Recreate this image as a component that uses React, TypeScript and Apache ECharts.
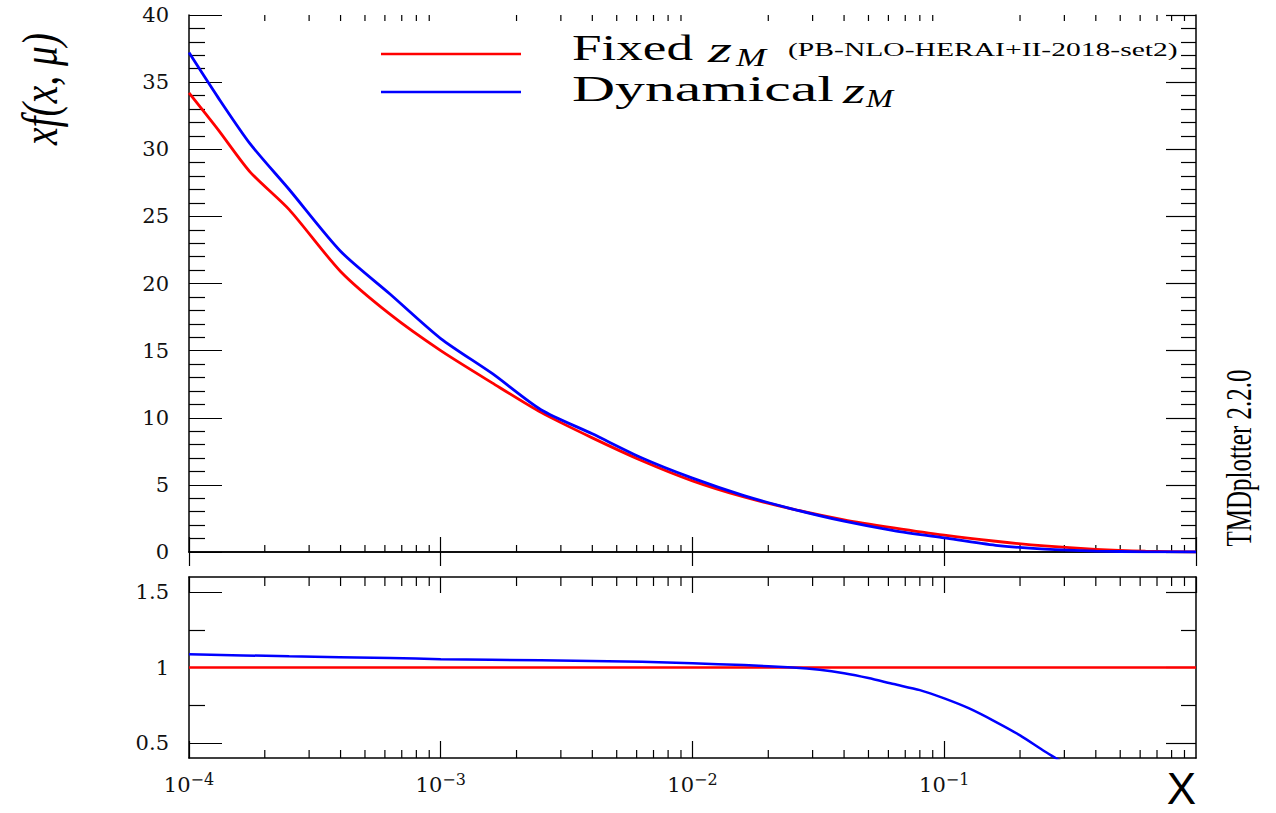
import React, { useEffect, useRef } from 'react';
import * as echarts from 'echarts';

// ---------- data ----------
const xValues = [1e-4, 1.3e-4, 1.75e-4, 2.5e-4, 4e-4, 6.3e-4, 1e-3, 1.6e-3, 2.5e-3, 4e-3, 6.3e-3, 1e-2, 1.6e-2, 2.5e-2, 4e-2, 6.3e-2, 0.1, 0.16, 0.25, 0.4, 0.63, 1];
const fixedZM = [34.2, 31.5, 28.3, 25.5, 20.9, 17.7, 15.0, 12.6, 10.4, 8.5, 6.8, 5.3, 4.1, 3.2, 2.4, 1.8, 1.25, 0.8, 0.45, 0.2, 0.06, 0];
const dynamicalZM = [37.2, 33.9, 30.4, 27.0, 22.4, 19.2, 15.9, 13.3, 10.6, 8.8, 7.0, 5.5, 4.2, 3.2, 2.3, 1.6, 1.05, 0.5, 0.22, 0.07, 0.015, 0];

const ratioX = [1e-4, 2.5e-4, 6.3e-4, 1e-3, 2.5e-3, 6.3e-3, 1e-2, 1.6e-2, 2.5e-2, 3.2e-2, 4e-2, 5e-2, 6.3e-2, 8e-2, 0.1, 0.125, 0.16, 0.2, 0.25, 0.32, 0.4, 1];
const fixedRatio = [1, 1, 1, 1, 1, 1, 1, 1, 1, 1, 1, 1, 1, 1, 1, 1, 1, 1, 1, 1, 1, 1];
const dynamicalRatio = [1.088, 1.074, 1.063, 1.055, 1.048, 1.038, 1.028, 1.016, 1.0, 0.985, 0.962, 0.93, 0.89, 0.85, 0.795, 0.73, 0.64, 0.55, 0.445, 0.335, 0.22];

const minorXTicks = [
  2e-4, 3e-4, 4e-4, 5e-4, 6e-4, 7e-4, 8e-4, 9e-4,
  2e-3, 3e-3, 4e-3, 5e-3, 6e-3, 7e-3, 8e-3, 9e-3,
  2e-2, 3e-2, 4e-2, 5e-2, 6e-2, 7e-2, 8e-2, 9e-2,
  0.2, 0.3, 0.4, 0.5, 0.6, 0.7, 0.8, 0.9,
];
const lowerMajorY = [0.5, 1, 1.5];
const lowerMinorY = [0.75, 1.25];

const legendFixed = 'Fixed';
const legendDynamical = 'Dynamical';
const legendPdfSet = '(PB-NLO-HERAI+II-2018-set2)';
const yTitle = 'xf(x, μ)';
const watermark = 'TMDplotter 2.2.0';

// ---------- helpers ----------
const RED = '#ff0000';
const BLUE = '#0000ff';
const INK = '#111111';
const LABEL_FONT = 'DejaVu Serif';

function textWidth(text: string, font: string): number {
  const c = document.createElement('canvas').getContext('2d');
  if (!c) return text.length * 12;
  c.font = font;
  return c.measureText(text).width || text.length * 12;
}

function fitText(text: string, font: string, x: number, y: number, width: number, extra: any = {}) {
  return {
    type: 'text',
    x,
    y,
    scaleX: width / textWidth(text, font),
    silent: true,
    style: { text, font, fill: '#000', textAlign: 'left', textVerticalAlign: 'middle' },
    ...extra,
  };
}

function logX(gridIndex: number, position: string, len: number, label?: any, extra: any = {}) {
  return {
    type: 'log',
    logBase: 10,
    gridIndex,
    position,
    min: 1e-4,
    max: 1,
    axisLine: { show: true, lineStyle: { color: '#000', width: 1.5 } },
    axisTick: { show: true, inside: true, length: len, lineStyle: { color: '#000', width: 1.2 } },
    axisLabel: label || { show: false },
    splitLine: { show: false },
    minorTick: { show: false },
    minorSplitLine: { show: false },
    ...extra,
  };
}

function valY(gridIndex: number, position: string, min: number, max: number, len: number, showLine: boolean, extra: any = {}) {
  return {
    type: 'value',
    gridIndex,
    position,
    min,
    max,
    axisLine: { show: showLine, lineStyle: { color: '#000', width: 1.5 } },
    axisTick: { show: true, inside: true, length: len, lineStyle: { color: '#000', width: 1.2 } },
    axisLabel: { show: false },
    splitLine: { show: false },
    ...extra,
  };
}

// minor (2..9) log ticks drawn through the log axis' own scale
function minorTicks(xAxisIndex: number, yAxisIndex: number, yVal: number, bottomLen: number, topLen: number) {
  return {
    type: 'custom',
    xAxisIndex,
    yAxisIndex,
    silent: true,
    clip: false,
    z: 1,
    data: minorXTicks.map((v) => [v, yVal]),
    renderItem: (params: any, api: any) => {
      const p = api.coord([api.value(0), api.value(1)]);
      const cs = params.coordSys;
      const x = p[0];
      const b = cs.y + cs.height;
      return {
        type: 'group',
        children: [
          { type: 'line', shape: { x1: x, y1: b, x2: x, y2: b - bottomLen }, style: { stroke: '#000', lineWidth: 1.2 } },
          { type: 'line', shape: { x1: x, y1: cs.y, x2: x, y2: cs.y + topLen }, style: { stroke: '#000', lineWidth: 1.2 } },
        ],
      };
    },
  };
}

const yLabel = { show: true, margin: 20, color: INK, fontFamily: LABEL_FONT, fontSize: 21 };

export default function App() {
  const ref = useRef<HTMLDivElement>(null);

  useEffect(() => {
    if (!ref.current) return;
    const chart = echarts.init(ref.current, undefined, { renderer: 'svg' });

    const pairs = (xs: number[], ys: number[]) => ys.map((y, i) => [xs[i], y]);

    const xLabel = {
      show: true,
      margin: 13,
      showMaxLabel: false,
      formatter: (v: number) => `{b|10}{s|−${Math.round(-Math.log10(v))}}`,
      rich: {
        b: { fontFamily: LABEL_FONT, fontSize: 21, color: INK, verticalAlign: 'bottom', lineHeight: 24 },
        s: { fontFamily: LABEL_FONT, fontSize: 16, color: INK, verticalAlign: 'top', lineHeight: 14 },
      },
    };

    const legFont = '35px "Liberation Serif"';
    const legIt = 'italic 35px "Liberation Serif"';
    const subIt = 'italic 26px "Liberation Serif"';
    const smallFont = '19px "Liberation Serif"';
    const titleFont = 'italic 36px "Liberation Serif"';
    const wmFont = '26px "Liberation Serif"';

    const lineCommon = { type: 'line', symbol: 'none', smooth: 0.25 };

    const option: any = {
      animation: false,
      backgroundColor: '#ffffff',
      grid: [
        { left: 189, top: 15, width: 1007, height: 537 },
        { left: 189, top: 577, width: 1007, height: 181 },
      ],
      xAxis: [
        logX(0, 'bottom', 15),
        logX(0, 'top', 14),
        logX(1, 'bottom', 17, xLabel, {
          name: 'X',
          nameLocation: 'end',
          nameGap: 0,
          nameTextStyle: {
            fontFamily: 'Liberation Sans',
            fontSize: 44,
            lineHeight: 44,
            color: '#000',
            align: 'right',
            verticalAlign: 'top',
            padding: [8, 0, 0, 0],
          },
        }),
        logX(1, 'top', 16),
      ],
      yAxis: [
        valY(0, 'left', 0, 40, 33, true, {
          interval: 5,
          axisLabel: yLabel,
          minorTick: { show: true, splitNumber: 5, length: 16, lineStyle: { color: '#000', width: 1.2 } },
        }),
        valY(0, 'right', 0, 40, 30, true, {
          interval: 5,
          minorTick: { show: true, splitNumber: 5, length: 15, lineStyle: { color: '#000', width: 1.2 } },
        }),
        valY(1, 'left', 0.4, 1.6, 33, true, {
          axisTick: { show: true, inside: true, length: 33, customValues: lowerMajorY, lineStyle: { color: '#000', width: 1.2 } },
          axisLabel: { ...yLabel, customValues: lowerMajorY },
        }),
        valY(1, 'left', 0.4, 1.6, 16, false, {
          axisTick: { show: true, inside: true, length: 16, customValues: lowerMinorY, lineStyle: { color: '#000', width: 1.2 } },
        }),
        valY(1, 'right', 0.4, 1.6, 30, true, {
          axisTick: { show: true, inside: true, length: 30, customValues: lowerMajorY, lineStyle: { color: '#000', width: 1.2 } },
        }),
        valY(1, 'right', 0.4, 1.6, 15, false, {
          axisTick: { show: true, inside: true, length: 15, customValues: lowerMinorY, lineStyle: { color: '#000', width: 1.2 } },
        }),
      ],
      series: [
        {
          ...lineCommon, name: 'Fixed z_M', xAxisIndex: 0, yAxisIndex: 0, data: pairs(xValues, fixedZM),
          lineStyle: { color: RED, width: 2.8 }, itemStyle: { color: RED }, z: 3,
        },
        {
          ...lineCommon, name: 'Dynamical z_M', xAxisIndex: 0, yAxisIndex: 0, data: pairs(xValues, dynamicalZM),
          lineStyle: { color: BLUE, width: 2.8 }, itemStyle: { color: BLUE }, z: 4,
        },
        {
          ...lineCommon, name: 'Fixed z_M ratio', xAxisIndex: 2, yAxisIndex: 2, data: pairs(ratioX, fixedRatio),
          lineStyle: { color: RED, width: 2.5 }, itemStyle: { color: RED }, z: 3,
        },
        {
          ...lineCommon, name: 'Dynamical z_M ratio', xAxisIndex: 2, yAxisIndex: 2, data: pairs(ratioX, dynamicalRatio),
          lineStyle: { color: BLUE, width: 2.5 }, itemStyle: { color: BLUE }, z: 4, clip: true,
        },
        minorTicks(0, 0, 20, 7, 6),
        minorTicks(2, 2, 1, 8, 9),
      ],
      graphic: [
        // legend lines
        { type: 'line', silent: true, shape: { x1: 381, y1: 54, x2: 521, y2: 54 }, style: { stroke: RED, lineWidth: 2.5 } },
        { type: 'line', silent: true, shape: { x1: 381, y1: 92, x2: 521, y2: 92 }, style: { stroke: BLUE, lineWidth: 2.5 } },
        // legend texts
        fitText(legendFixed, legFont, 572, 48, 121),
        fitText('z', legIt, 708, 50, 24),
        fitText('M', subIt, 736, 57, 30),
        fitText(legendPdfSet, smallFont, 788, 50, 390),
        fitText(legendDynamical, legFont, 572, 89, 262),
        fitText('z', legIt, 843, 91, 22),
        fitText('M', subIt, 866, 98, 27),
        // y-axis title
        {
          type: 'text', x: 40, y: 89, rotation: Math.PI / 2,
          scaleX: 112 / textWidth(yTitle, titleFont), scaleY: 1.4, silent: true,
          style: { text: yTitle, font: titleFont, fill: '#000', textAlign: 'center', textVerticalAlign: 'middle' },
        },
        // watermark
        {
          type: 'text', x: 1239, y: 458, rotation: Math.PI / 2,
          scaleX: 177 / textWidth(watermark, wmFont), scaleY: 1.35, silent: true,
          style: { text: watermark, font: wmFont, fill: '#000', textAlign: 'center', textVerticalAlign: 'middle' },
        },
      ],
    };

    chart.setOption(option);
    return () => chart.dispose();
  }, []);

  return <div ref={ref} style={{ position: 'absolute', left: 0, top: 0, width: 1276, height: 813, background: '#fff' }} />;
}
